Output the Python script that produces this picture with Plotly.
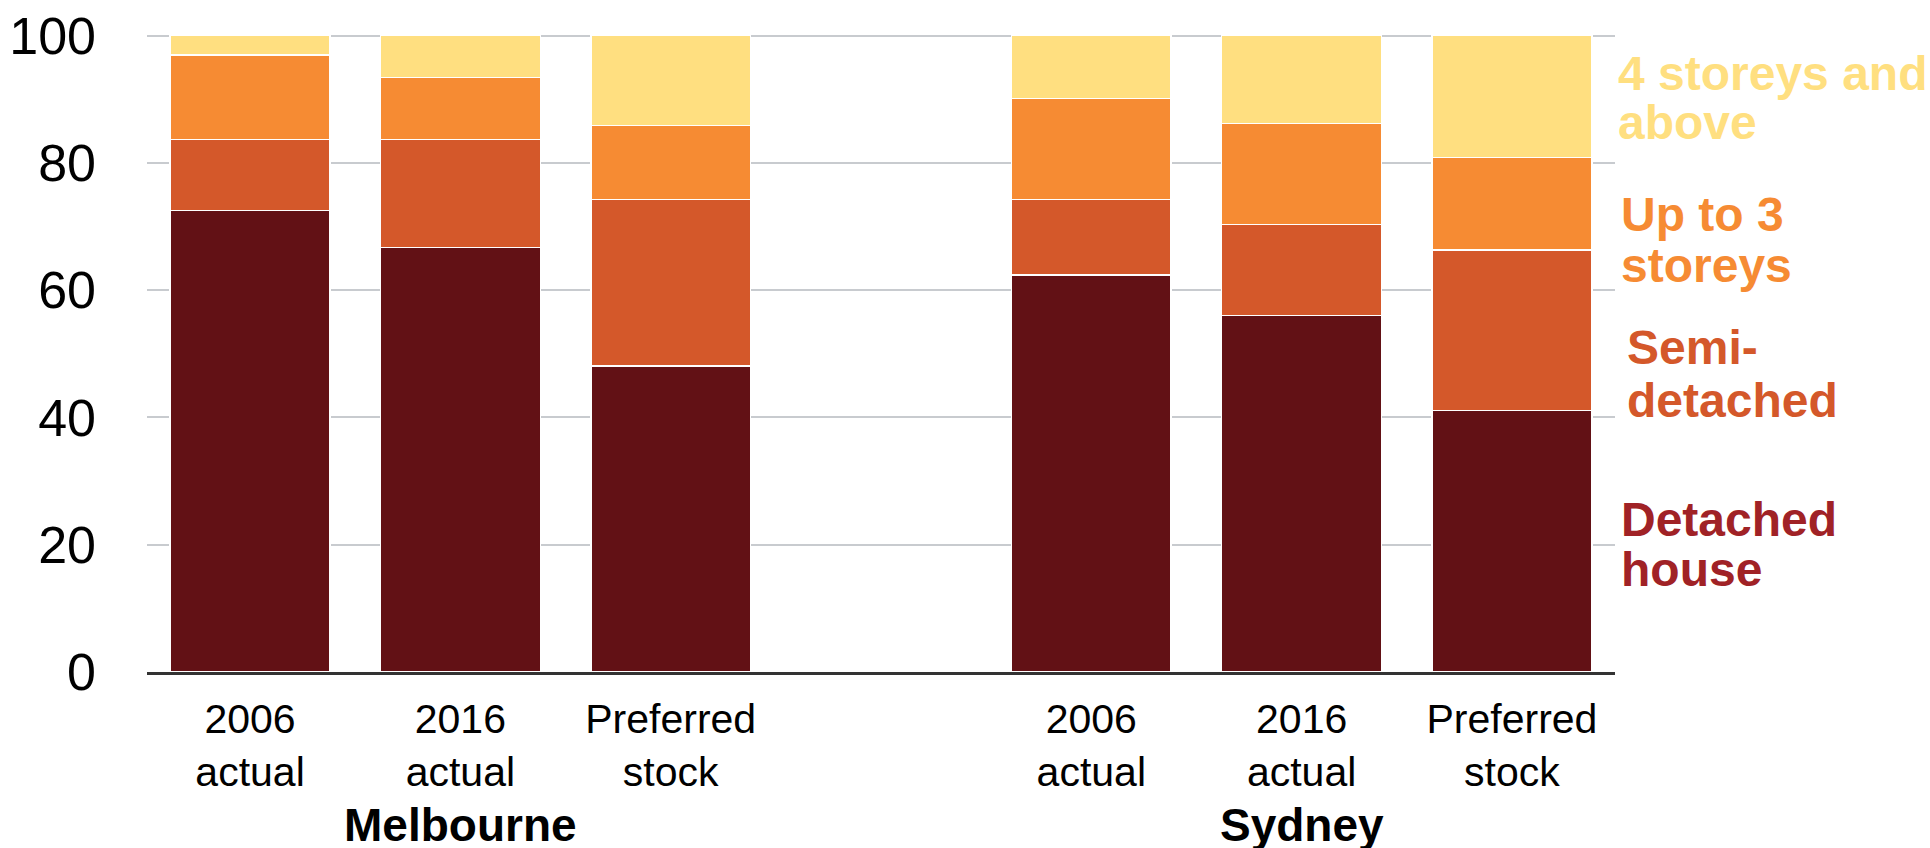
import plotly.graph_objects as go

# ---- data ----
cities = ["Melbourne", "Sydney"]
bar_labels = ["2006<br>actual", "2016<br>actual", "Preferred<br>stock"]
series_names = ["Detached house", "Semi-detached", "Up to 3 storeys", "4 storeys and above"]
detached = [72.5, 66.7, 48.1, 62.4, 56.0, 41.1]
semi_detached = [11.2, 17.0, 26.1, 11.8, 14.3, 25.2]
up_to_3 = [13.2, 9.7, 11.7, 15.9, 15.9, 14.5]
four_plus = [3.1, 6.6, 14.1, 9.9, 13.8, 19.3]
y_ticks = [0, 20, 40, 60, 80, 100]

bar_colors = ["#621115", "#D4582A", "#F68B33", "#FFDF80"]
label_colors = ["#A02226", "#D4582A", "#F68B33", "#FFDF80"]

# x positions: 3 bars per city with one empty slot between cities
xpos = []
ticktext = []
for g, c in enumerate(cities):
    for i, lab in enumerate(bar_labels):
        xpos.append(g * 4 + i)
        ticktext.append(lab)

FONT = "Liberation Sans, Arial, Helvetica, sans-serif"

fig = go.Figure()
for name, vals, col in zip(series_names, [detached, semi_detached, up_to_3, four_plus], bar_colors):
    fig.add_trace(go.Bar(
        x=xpos, y=vals, name=name, width=0.76,
        marker=dict(color=col, line=dict(color="white", width=1.5)),
        showlegend=False,
    ))

# pixel geometry helpers
L, R, T, B = 147, 1615, 32, 672
def px_x(p):
    return (p - L) / (R - L)
def px_y(p):
    return (B - p) / (B - T)

annotations = []
# group labels
for g, c in enumerate(cities):
    annotations.append(dict(
        x=g * 4 + 1, xref="x", y=px_y(841 - 0.35 * 46), yref="paper",
        text="<b>%s</b>" % c, showarrow=False, xanchor="center", yanchor="middle",
        font=dict(family=FONT, size=46, color="black"),
    ))

# right-hand series labels (two lines each)
legend_lines = [
    ("4 storeys and", 90, 1616, 3),
    ("above", 139, 1616, 3),
    ("Up to 3", 231, 1619, 2),
    ("storeys", 282, 1619, 2),
    ("Semi-", 364, 1625, 1),
    ("detached", 417, 1625, 1),
    ("Detached", 536, 1619, 0),
    ("house", 586, 1619, 0),
]
for txt, base, xp, si in legend_lines:
    annotations.append(dict(
        x=px_x(xp), xref="paper", y=px_y(base - 0.35 * 48), yref="paper",
        text="<b>%s</b>" % txt, showarrow=False, xanchor="left", yanchor="middle",
        font=dict(family=FONT, size=48, color=label_colors[si]),
    ))

fig.update_layout(
    barmode="stack",
    width=1930, height=848,
    margin=dict(l=L, r=1930 - R, t=T, b=848 - B, pad=0, autoexpand=False),
    plot_bgcolor="white", paper_bgcolor="white",
    bargap=0.24,
    annotations=annotations,
    font=dict(family=FONT, color="black"),
)
fig.update_xaxes(
    range=[-0.49, 6.49], tickmode="array", tickvals=xpos, ticktext=ticktext,
    tickfont=dict(family=FONT, size=41, color="black"),
    showline=True, linecolor="#333333", linewidth=2.5,
    showgrid=False, zeroline=False, ticks="", ticklabelstandoff=9,
    automargin=False,
)
fig.update_yaxes(
    range=[0, 100.55], tickmode="array", tickvals=y_ticks,
    tickfont=dict(family=FONT, size=52, color="black"),
    showgrid=True, gridcolor="#C8CBCF", gridwidth=2,
    zeroline=False, showline=False, ticks="", ticklabelstandoff=50,
    automargin=False,
)

fig.write_html("out.html")
